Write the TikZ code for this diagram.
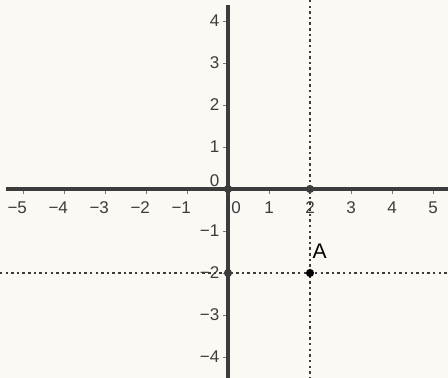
\documentclass[tikz,border=0pt]{standalone}
\usepackage{xcolor}
\usepackage{fontspec}
\setmainfont{Liberation Sans}
\usetikzlibrary{positioning}
\definecolor{paper}{HTML}{FAF9F4}
\definecolor{axisgray}{HTML}{3C3C3C}
\begin{document}
\begin{tikzpicture}[
  x=1.23cm,
  y=1.26cm,
  axis/.style={
    draw=axisgray,
    line width=2.8pt
  },
  guide/.style={
    draw=axisgray,
    line width=2.2pt,
    dash pattern=on 2.1pt off 2.7pt
  },
  tick/.style={
    draw=axisgray!70,
    line width=0.7pt
  },
  num/.style={
    font=\fontsize{14.5}{16}\selectfont,
    text=axisgray,
    inner sep=1pt
  },
  pt/.style={
    circle,
    fill=axisgray,
    inner sep=0pt,
    minimum size=7pt
  }
]
\useasboundingbox[fill=paper] (-5.561,-4.5) rectangle (5.366,4.5);
% ends of the axes and the guide lines
\coordinate (xl) at (-5.41,0);
\coordinate (xr) at (5.366,0);
\coordinate (yt) at (0,4.38);
\coordinate (yb) at (0,-4.5);
\coordinate (vt) at (2,4.5);
\coordinate (vb) at (2,-4.5);
\coordinate (hl) at (-5.561,-2);
\coordinate (hr) at (5.366,-2);
% guide lines
\draw[guide] (vt) -- (vb);
\draw[guide] (hl) -- (hr);
% ticks
\foreach \k in {-5,...,5} {
  \draw[tick] (\k,0) -- (\k,-0.12);
}
\foreach \k in {-4,...,4} {
  \draw[tick] (0,\k) -- (-0.12,\k);
}
% axes
\draw[axis] (xl) -- (xr);
\draw[axis] (yt) -- (yb);
% labels
\foreach \k in {1,...,5} {
  \node[num] at (-\k-0.14,-0.45) {−\k};
  \node[num] at (\k,-0.45) {\k};
}
\node[num] at (0.2,-0.45) {0};
\foreach \k in {1,...,4} {
  \node[num,anchor=east] at (-0.18,\k) {\k};
  \node[num,anchor=east] at (-0.18,-\k) {−\k};
}
\node[num,anchor=east] at (-0.18,0.2) {0};
% points
\node[pt] (O) at (0,0) {};
\node[pt] (P) at (2,0) {};
\node[pt] (Q) at (0,-2) {};
\node[pt,fill=black] (A) at (2,-2) {};
\node[font=\fontsize{18}{20}\selectfont,text=black,anchor=south west,inner sep=0pt] (Alab) at (2.06,-1.67) {A};
\end{tikzpicture}
\end{document}
